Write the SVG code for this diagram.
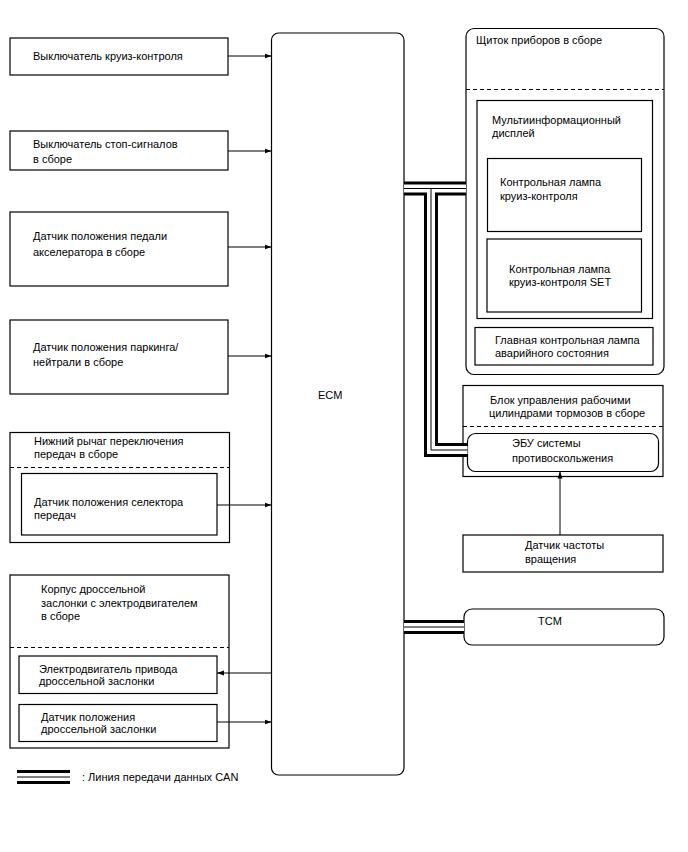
<svg xmlns="http://www.w3.org/2000/svg" width="688" height="852" viewBox="0 0 688 852">
<style>
text{font-family:"Liberation Sans",Arial,sans-serif;font-size:11px;fill:#000}
.b{fill:#fff;stroke:#000;stroke-width:1.2}
.d{fill:none;stroke:#000;stroke-width:1;stroke-dasharray:4,3}
.w{fill:none;stroke:#000;stroke-width:1}
.c1{fill:none;stroke:#000;stroke-width:14}
.c2{fill:none;stroke:#fff;stroke-width:8}
.c3{fill:none;stroke:#000;stroke-width:1}
</style>
<defs>
<marker id="ah" markerWidth="8" markerHeight="6" refX="7" refY="3" orient="auto" markerUnits="userSpaceOnUse">
<path d="M0,0.5 L7,3 L0,5.5 Z" fill="#000"/>
</marker>
</defs>
<rect width="688" height="852" fill="#fff"/>

<g id="ecm">
<rect class="b" x="271.5" y="33" width="132.5" height="742" rx="7"/>
<text x="318" y="399">ECM</text>
</g>

<g id="n1">
<rect class="b" x="10" y="38" width="218" height="37"/>
<text x="33" y="60">Выключатель круиз-контроля</text>
</g>
<g id="n2">
<rect class="b" x="10" y="131" width="218" height="39"/>
<text x="33" y="148">Выключатель стоп-сигналов</text>
<text x="33" y="163">в сборе</text>
</g>
<g id="n3">
<rect class="b" x="10" y="212" width="218" height="74"/>
<text x="33" y="240">Датчик положения педали</text>
<text x="33" y="256">акселератора в сборе</text>
</g>
<g id="n4">
<rect class="b" x="10" y="320" width="218" height="74"/>
<text x="33" y="351">Датчик положения паркинга/</text>
<text x="33" y="366">нейтрали в сборе</text>
</g>
<g id="n5">
<rect class="b" x="10" y="432.5" width="219.5" height="110"/>
<text x="34" y="445">Нижний рычаг переключения</text>
<text x="34" y="458">передач в сборе</text>
<line class="d" x1="10" y1="467.5" x2="229.5" y2="467.5"/>
<g id="n5a">
<rect class="b" x="21.5" y="473.5" width="195.5" height="61.5"/>
<text x="34" y="505.5">Датчик положения селектора</text>
<text x="34" y="518.5">передач</text>
</g>
</g>
<g id="n6">
<rect class="b" x="10" y="575" width="219" height="173"/>
<text x="41" y="593">Корпус дроссельной</text>
<text x="41" y="607">заслонки с электродвигателем</text>
<text x="41" y="620">в сборе</text>
<line class="d" x1="10" y1="647.5" x2="229" y2="647.5"/>
<g id="n6a">
<rect class="b" x="19" y="656" width="198" height="37.5"/>
<text x="39" y="673">Электродвигатель привода</text>
<text x="39" y="685">дроссельной заслонки</text>
</g>
<g id="n6b">
<rect class="b" x="19" y="704.5" width="198" height="37"/>
<text x="41" y="720.5">Датчик положения</text>
<text x="41" y="732.5">дроссельной заслонки</text>
</g>
</g>

<g id="n7">
<rect class="b" x="466" y="28.5" width="198" height="346" rx="8"/>
<text x="476" y="44">Щиток приборов в сборе</text>
<line class="d" x1="466" y1="89.5" x2="664" y2="89.5"/>
<g id="n7a">
<rect class="b" x="477" y="100.5" width="175.5" height="218"/>
<text x="492" y="124">Мультиинформационный</text>
<text x="492" y="137">дисплей</text>
</g>
<g id="n7b">
<rect class="b" x="487.5" y="158.5" width="154" height="73"/>
<text x="500" y="186">Контрольная лампа</text>
<text x="500" y="200">круиз-контроля</text>
</g>
<g id="n7c">
<rect class="b" x="487" y="239" width="154.5" height="73"/>
<text x="509" y="273">Контрольная лампа</text>
<text x="509" y="286">круиз-контроля SET</text>
</g>
<g id="n7d">
<rect class="b" x="475" y="327.5" width="178" height="37.5"/>
<text x="495" y="344">Главная контрольная лампа</text>
<text x="495" y="357">аварийного состояния</text>
</g>
</g>

<g id="n8">
<rect class="b" x="463" y="385.5" width="200" height="91"/>
<text x="490" y="404">Блок управления рабочими</text>
<text x="489" y="417">цилиндрами тормозов в сборе</text>
<line class="d" x1="463" y1="426.5" x2="663" y2="426.5"/>
<g id="n8a">
<rect class="b" x="467.5" y="433.5" width="191" height="38" rx="8"/>
<text x="512" y="447">ЭБУ системы</text>
<text x="512" y="461.5">противоскольжения</text>
</g>
</g>
<g id="n9">
<rect class="b" x="463" y="535" width="200" height="37"/>
<text x="525" y="549">Датчик частоты</text>
<text x="525" y="563">вращения</text>
</g>
<g id="n10">
<rect class="b" x="464" y="609" width="200" height="36" rx="8"/>
<text x="538" y="625">TCM</text>
</g>

<g id="connectors">
<line class="w" x1="228" y1="56" x2="271.5" y2="56" marker-end="url(#ah)"/>
<line class="w" x1="228" y1="151" x2="271.5" y2="151" marker-end="url(#ah)"/>
<line class="w" x1="228" y1="247" x2="271.5" y2="247" marker-end="url(#ah)"/>
<line class="w" x1="228" y1="356" x2="271.5" y2="356" marker-end="url(#ah)"/>
<line class="w" x1="217" y1="505" x2="271.5" y2="505" marker-end="url(#ah)"/>
<line class="w" x1="271.5" y1="673" x2="217" y2="673" marker-end="url(#ah)"/>
<line class="w" x1="217" y1="722" x2="271.5" y2="722" marker-end="url(#ah)"/>
<line class="w" x1="560" y1="535" x2="560" y2="471.5" marker-end="url(#ah)"/>

<path class="c1" d="M404,188.5 H466 M431,188.5 V450 H467.5 M404,627 H464"/>
<path class="c2" d="M404,188.5 H466 M431,188.5 V450 H467.5 M404,627 H464"/>
<path class="c3" d="M404,188.5 H466 M431,188.5 V450 H467.5 M404,627 H464"/>
</g>

<g id="legend">
<path class="c1" d="M17,777 H70"/>
<path class="c2" d="M17,777 H70"/>
<path class="c3" d="M17,777 H70"/>
<text x="82" y="781">: Линия передачи данных CAN</text>
</g>
</svg>
